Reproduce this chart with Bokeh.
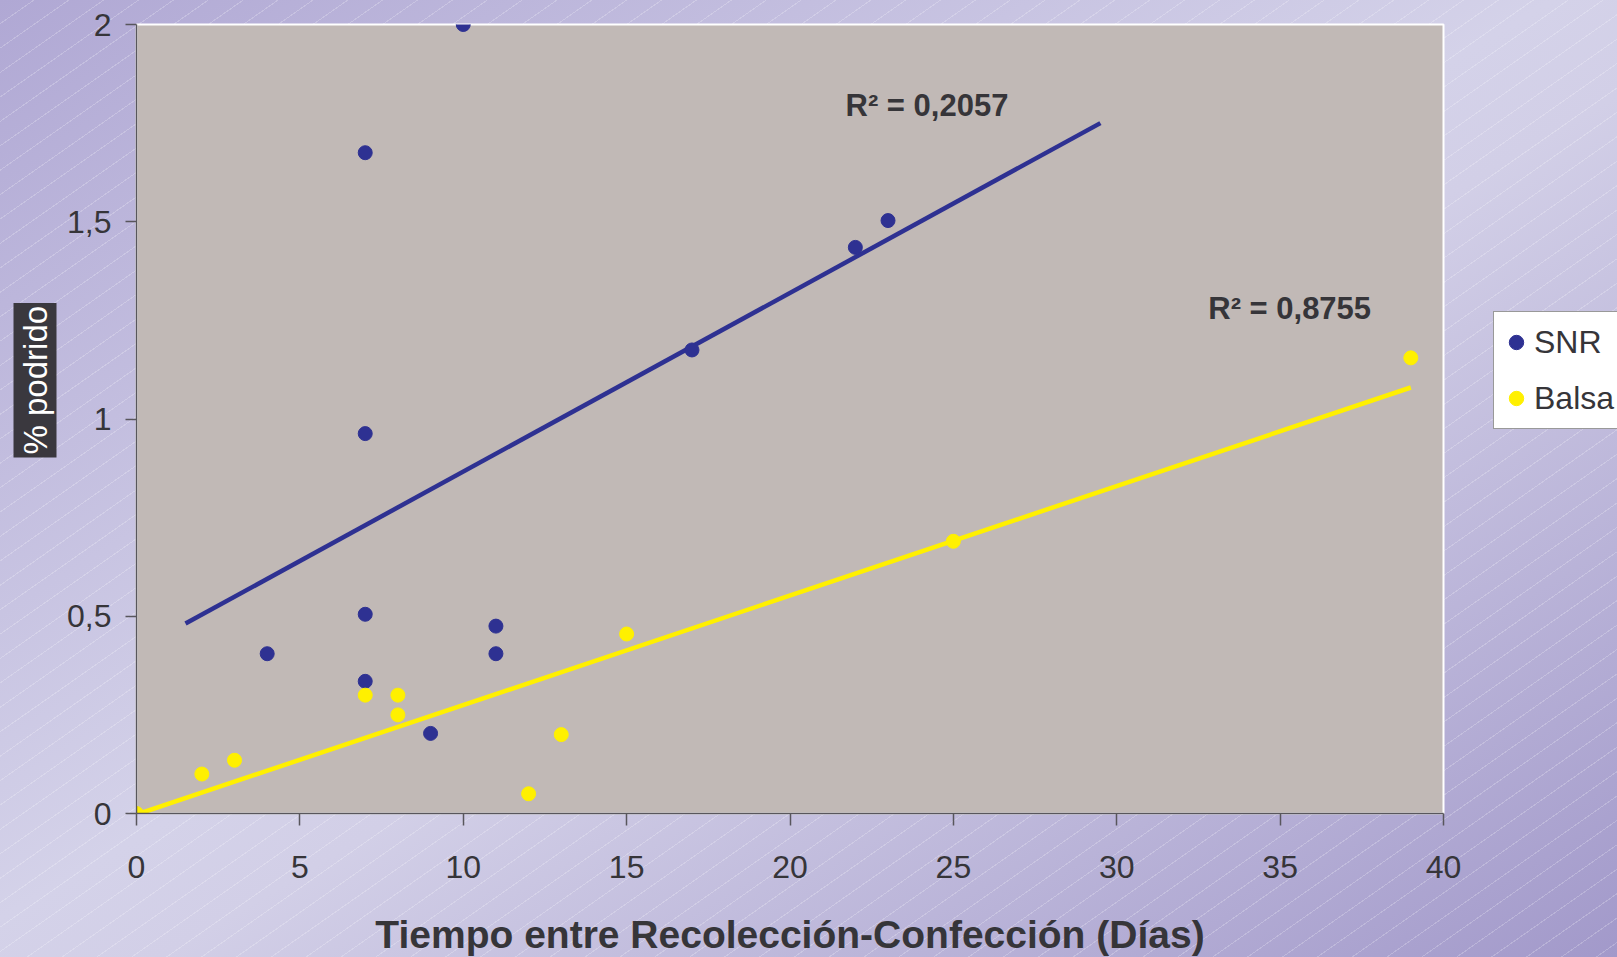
import numpy as np
from bokeh.plotting import figure
from bokeh.models import Range1d, FixedTicker, Label, Legend, LegendItem, Title
from bokeh.embed import file_html
from bokeh.resources import INLINE

# ---- data ----
snr_x = [10, 7, 7, 7, 7, 4, 9, 11, 11, 17, 22, 23]
snr_y = [2.0, 1.675, 0.963, 0.505, 0.335, 0.405, 0.203, 0.475, 0.405, 1.175, 1.435, 1.503]
balsa_x = [0, 2, 3, 7, 8, 8, 12, 13, 15, 25, 39]
balsa_y = [0.0, 0.10, 0.135, 0.30, 0.30, 0.25, 0.05, 0.20, 0.455, 0.69, 1.155]
series_names = ["SNR", "Balsa"]
r2_labels = ["R² = 0,2057", "R² = 0,8755"]
x_ticks = [0, 5, 10, 15, 20, 25, 30, 35, 40]
y_ticks = [0, 0.5, 1, 1.5, 2]
y_tick_labels = ["0", "0,5", "1", "1,5", "2"]
x_title = "Tiempo entre Recolección-Confección (Días)"
y_title = "% podrido"
snr_backcast, snr_forecast = 2.5, 6.5

FONT = "Liberation Sans"
TXT = "#363539"
SNR_C = "#2e3192"
BAL_C = "#fff000"

p = figure(width=1609, height=949, x_range=Range1d(0, 40), y_range=Range1d(0, 2),
           output_backend="svg", toolbar_location=None,
           frame_width=1307, frame_height=789,
           min_border_left=136, min_border_top=24, min_border_right=166, min_border_bottom=136)
p.border_fill_color = None
p.background_fill_color = "#c1b9b6"
p.outline_line_color = "white"
p.outline_line_width = 2
p.grid.visible = False

for ax in (p.xaxis[0], p.yaxis[0]):
    ax.axis_line_color = "#58565c"
    ax.axis_line_width = 1.5
    ax.major_tick_line_color = "#58565c"
    ax.major_tick_line_width = 1.5
    ax.minor_tick_line_color = None
    ax.major_tick_in = 0
    ax.major_label_text_font = FONT
    ax.major_label_text_font_size = "32px"
    ax.major_label_text_color = TXT

p.xaxis.ticker = FixedTicker(ticks=x_ticks)
p.xaxis.major_tick_out = 12
p.xaxis.major_label_standoff = 30
p.xaxis.axis_label = x_title
p.xaxis.axis_label_text_font = FONT
p.xaxis.axis_label_text_font_style = "bold"
p.xaxis.axis_label_text_font_size = "39px"
p.xaxis.axis_label_text_color = TXT
p.xaxis.axis_label_standoff = 32

p.yaxis.ticker = FixedTicker(ticks=y_ticks)
p.yaxis.major_label_overrides = {t: l for t, l in zip(y_ticks, y_tick_labels)}
p.yaxis.major_tick_out = 11
p.yaxis.major_label_standoff = 14

# trendlines (least squares from the data)
sx = np.array(snr_x, float); sy = np.array(snr_y, float)
m1, b1 = np.polyfit(sx, sy, 1)
lx1 = np.array([sx.min() - snr_backcast, sx.max() + snr_forecast])
bx = np.array(balsa_x, float); by = np.array(balsa_y, float)
m2, b2 = np.polyfit(bx, by, 1)
lx2 = np.array([bx.min(), bx.max()])

p.line(lx1, m1 * lx1 + b1, line_color=SNR_C, line_width=4.5)
p.line(lx2, m2 * lx2 + b2, line_color=BAL_C, line_width=4.5)
r1 = p.scatter(snr_x, snr_y, size=14, marker="circle", fill_color=SNR_C, line_color=SNR_C)
r2 = p.scatter(balsa_x, balsa_y, size=14, marker="circle", fill_color=BAL_C, line_color=BAL_C)

# R² annotations
p.add_layout(Label(x=21.7, y=1.751, text=r2_labels[0], text_font=FONT, text_font_style="bold",
                   text_font_size="31px", text_color=TXT))
p.add_layout(Label(x=32.8, y=1.237, text=r2_labels[1], text_font=FONT, text_font_style="bold",
                   text_font_size="31px", text_color=TXT))

# y title with dark box
p.add_layout(Title(text=y_title, align="left", offset=356, text_font=FONT,
                   text_font_style="normal", text_font_size="33px", text_color="white",
                   background_fill_color="#3a383e", padding=3, standoff=16), "left")

legend = Legend(items=[LegendItem(label=series_names[0], renderers=[r1]),
                       LegendItem(label=series_names[1], renderers=[r2])],
                location=(50, 384), padding=4, spacing=4, glyph_width=36, glyph_height=52,
                label_height=52, label_standoff=0, label_text_font=FONT,
                label_text_font_size="32px", label_text_color=TXT, margin=0,
                border_line_color="#333333", border_line_width=1.5,
                background_fill_color="white", background_fill_alpha=1)
p.add_layout(legend, "right")

html = file_html(p, INLINE)
bg = ("<style>html{min-height:100%;background:"
      "repeating-linear-gradient(145deg, rgba(255,255,255,0) 0px, rgba(255,255,255,0) 19px, "
      "rgba(255,255,255,0.22) 19px, rgba(255,255,255,0.22) 20px),"
      "linear-gradient(to bottom right, #b0a8d4 0%, #d4d2e9 48%, #d2cfe7 55%, #a299ca 100%);"
      "background-attachment:fixed;}</style></head>")
html = html.replace("</head>", bg, 1)
open("out.html", "w").write(html)
